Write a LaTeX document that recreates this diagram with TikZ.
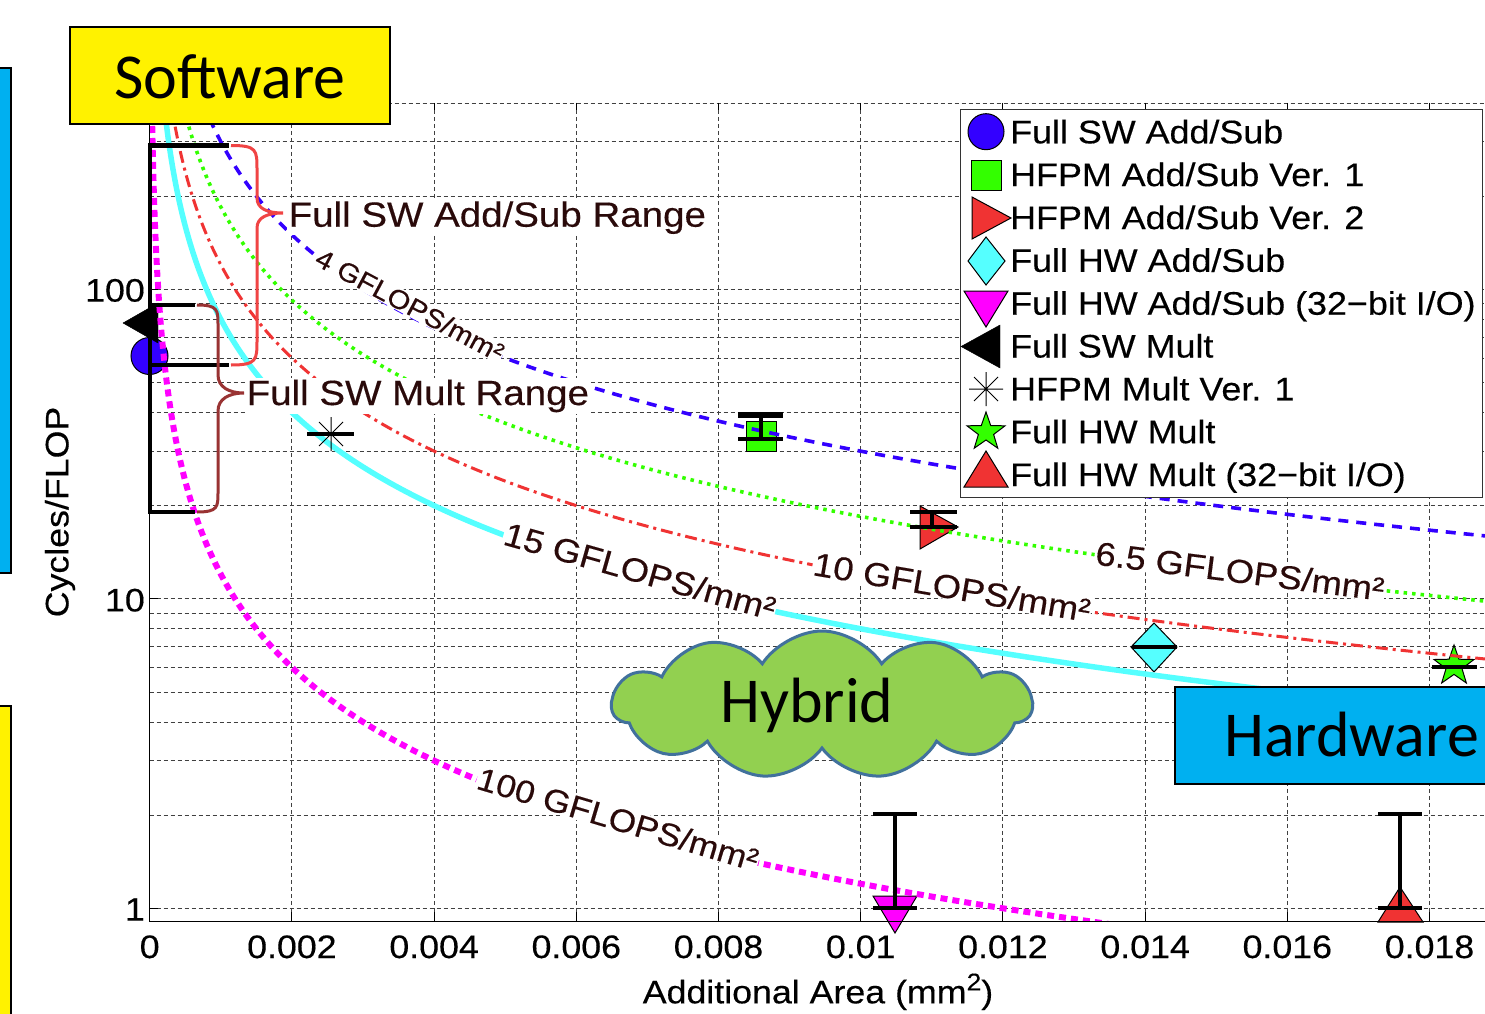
\documentclass[tikz,border=0pt]{standalone}
\usepackage{fontspec}
\setmainfont{Liberation Sans}
\newfontfamily\pf[FakeStretch=1.1,FakeBold=0.35]{Liberation Sans}
\newfontfamily\cf{Carlito}
\usetikzlibrary{shapes.symbols,shapes.geometric}
\definecolor{mblue}{HTML}{3300FF}
\definecolor{mgreen}{HTML}{33FF00}
\definecolor{mred}{HTML}{F03333}
\definecolor{mcyan}{HTML}{55FFFF}
\definecolor{mmag}{HTML}{FF00FF}
\definecolor{bracer}{HTML}{F04444}
\definecolor{braced}{HTML}{993333}
\definecolor{txt}{HTML}{2A0A0A}
\definecolor{cloudg}{HTML}{92D050}
\definecolor{cloudb}{HTML}{41719C}
\definecolor{hwblue}{HTML}{00B0F0}
\begin{document}
\begin{tikzpicture}[x=1pt,y=-1pt,
  gridl/.style={draw=black!75, line width=0.9pt, dash pattern=on 4pt off 3pt},
  ebar/.style={line width=4.5pt, black},
  vbar/.style={line width=3.5pt, black},
  mk/.style={draw=black, line width=1pt},
  ann/.style={fill=white, inner sep=1.5pt, text=txt, anchor=base west, font=\pf\fontsize{35}{38}\selectfont},
  clab/.style={fill=white, inner sep=1pt, text=txt, font=\pf\fontsize{33}{36}\selectfont},
  tickl/.style={font=\pf\fontsize{32.5}{36}\selectfont, inner sep=0},
  legtxt/.style={font=\pf\fontsize{32.6}{36}\selectfont, inner sep=0, anchor=base west},
  big/.style={font=\cf\fontsize{64}{70}\selectfont, inner sep=0, anchor=base}
]
\useasboundingbox (0,0) rectangle (1485,1014);
\clip (0,0) rectangle (1485,1014);
\fill[white] (0,0) rectangle (1485,1014);

% left strips
\filldraw[fill=hwblue, draw=black, line width=1.2pt] (-5,68) rectangle (11,573);
\filldraw[fill=yellow, draw=black, line width=1.2pt] (-5,706) rectangle (11,1020);

% grid
\foreach \v in {1,2,3,4,5,6,7,8,9,10,20,30,40,50,60,70,80,90,100,200,300,400}{
  \pgfmathsetmacro\yy{908.3-309.5*log10(\v)}
  \draw[gridl] (149.7,\yy) -- (1485,\yy);
}
\foreach \k in {1,...,9}{
  \draw[gridl] ({149.7+142.2*\k},102.9) -- ({149.7+142.2*\k},921.7);
  \draw[line width=1pt] ({149.7+142.2*\k},921.7) -- ({149.7+142.2*\k},912);
  \draw[line width=1pt] ({149.7+142.2*\k},102.9) -- ({149.7+142.2*\k},110);
}

% markers
\filldraw[mk, fill=mblue] (149.5,356) circle[radius=18.5pt];
\filldraw[fill=black, draw=black] (123,323) -- (158,303) -- (158,343) -- cycle;
\filldraw[mk, fill=mgreen] (746,421) rectangle (776,451);
\filldraw[mk, fill=mred] (920,506) -- (958,527) -- (920,549) -- cycle;
\filldraw[mk, fill=mcyan] (1131,647) -- (1154,623) -- (1177,647) -- (1154,672) -- cycle;
\filldraw[mk, fill=mmag] (873,896) -- (917,896) -- (895,933) -- cycle;
\filldraw[mk, fill=mred] (1400,887) -- (1423,922) -- (1378,922) -- cycle;
\node[star, star points=5, star point ratio=2.5, minimum size=42pt, inner sep=0, mk, fill=mgreen] (hwm) at (1454,666) {};

% curves
\begin{scope}
\clip (149.7,102.9) rectangle (1485,921.7);
\draw[mblue, line width=3.6pt, dash pattern=on 10pt off 8pt] plot[domain=1.7237:3.13, samples=160, variable=\t] ({149.7+pow(10,\t)},{-431.5+309.5*\t});
\draw[mgreen, line width=3.6pt, dash pattern=on 3.5pt off 5pt] plot[domain=1.5129:3.13, samples=160, variable=\t] ({149.7+pow(10,\t)},{-366.25+309.5*\t});
\draw[mred, line width=3pt, dash pattern=on 12pt off 5pt on 3pt off 5pt] plot[domain=1.3260:3.13, samples=160, variable=\t] ({149.7+pow(10,\t)},{-308.4+309.5*\t});
\draw[mcyan, line width=5.5pt] plot[domain=1.1499:3.13, samples=160, variable=\t] ({149.7+pow(10,\t)},{-253.9+309.5*\t});
\draw[mmag, line width=6pt, dash pattern=on 7pt off 5pt] plot[domain=0.326:3.0, samples=200, variable=\t] ({149.7+pow(10,\t)},{1.1+309.5*\t});
\end{scope}

% asterisk
\draw[line width=1pt] (331,417) -- (331,451) (314,434) -- (348,434) (319,422) -- (343,446) (319,446) -- (343,422);

% error bars
\draw[ebar] (307,434) -- (354,434);
\draw[line width=6pt] (738,415) -- (783,415);
\draw[ebar] (738,439) -- (783,439);
\draw[vbar] (761,415) -- (761,439);
\draw[ebar] (910,512) -- (957,512) (910,527) -- (957,527);
\draw[vbar] (932,512) -- (932,527);
\draw[ebar] (1132,647) -- (1177,647);
\draw[ebar] (1432,667) -- (1477,667);
\draw[vbar] (895,814) -- (895,908);
\draw[ebar] (873,814) -- (917,814) (873,908) -- (917,908);
\draw[vbar] (1400,814) -- (1400,908);
\draw[ebar] (1378,814) -- (1422,814) (1378,908) -- (1422,908);

% axes
\draw[line width=1.2pt] (149.7,102.9) -- (149.7,921.7) -- (1485,921.7);
\foreach \v in {1,10,100}{
  \pgfmathsetmacro\yy{908.3-309.5*log10(\v)}
  \draw[line width=1pt] (149.7,\yy) -- (158,\yy);
}

% software ranges
\draw[line width=4pt] (150,145) -- (150,512);
\draw[ebar] (148,145.5) -- (229,145.5) (148,365) -- (229,365);
\draw[ebar] (148,305) -- (195,305) (148,512) -- (195,512);

% curve labels
\node[clab, rotate=-28.1, font=\pf\fontsize{26.5}{28}\selectfont] (l4) at (410,305) {4 GFLOPS/mm²};
\node[clab, rotate=-15.8] (l15) at (640,571) {15 GFLOPS/mm²};
\node[clab, rotate=-9.7] (l10) at (952,587) {10 GFLOPS/mm²};
\node[clab, rotate=-7.2] (l65) at (1240,571) {6.5 GFLOPS/mm²};
\node[clab, rotate=-16.6, font=\pf\fontsize{32}{35}\selectfont] (l100) at (618,819) {100 GFLOPS/mm²};

% range annotations
\node[ann] (raddsub) at (287,226.7) {Full SW Add/Sub Range};
\node[ann] (rmult) at (245,405) {Full SW Mult Range};
\draw[bracer, line width=3pt] (231,145.5) .. controls (257,145.5) and (257,150) .. (257,170) -- (257,198) .. controls (257,209) and (268,213) .. (283,213) .. controls (268,213) and (257,217) .. (257,228) -- (257,340) .. controls (257,360) and (257,365) .. (231,365);
\draw[braced, line width=3pt] (197,305) .. controls (218,305) and (218,310) .. (218,325) -- (218,375) .. controls (218,387) and (229,393) .. (244,393) .. controls (229,393) and (218,399) .. (218,411) -- (218,492) .. controls (218,507) and (218,512) .. (197,512);

% tick labels
\foreach \k/\lab in {0/0,1/0.002,2/0.004,3/0.006,4/0.008,5/0.01,6/0.012,7/0.014,8/0.016,9/0.018}{
  \node[tickl, anchor=base] (xt\k) at ({149.7+142.2*\k},958) {\lab};
}
\node[tickl, anchor=base east] (yt100) at (145,301.6) {100};
\node[tickl, anchor=base east] (yt10) at (145,611.4) {10};
\node[tickl, anchor=base east] (yt1) at (145,920.6) {1};
\node[tickl, anchor=base] (xlab) at (818,1003.3) {Additional Area (mm\raisebox{13pt}{\fontsize{24}{26}\selectfont 2})};
\node[tickl, rotate=90] (ylab) at (60,512) {Cycles/FLOP};

% legend
\node[draw=black!80, fill=white, line width=1.2pt, minimum width=522pt, minimum height=388pt, anchor=north west, inner sep=0] (leg) at (960,109) {};
\filldraw[mk, fill=mblue] (986,131.7) circle[radius=18pt];
\filldraw[mk, fill=mgreen] (971,160) rectangle (1001,190);
\filldraw[mk, fill=mred] (972,197) -- (1011,218) -- (972,239) -- cycle;
\filldraw[mk, fill=mcyan] (968,261) -- (986,237) -- (1005,261) -- (986,285) -- cycle;
\filldraw[mk, fill=mmag] (964,291) -- (1008,291) -- (986,327) -- cycle;
\filldraw[fill=black, draw=black] (961,346.5) -- (1000,325) -- (1000,368) -- cycle;
\draw[line width=1pt] (986,372) -- (986,406) (969,389) -- (1003,389) (974,377) -- (998,401) (974,401) -- (998,377);
\node[star, star points=5, star point ratio=2.5, minimum size=40pt, inner sep=0, mk, fill=mgreen] (legstar) at (986,432) {};
\filldraw[mk, fill=mred] (986,451) -- (1008,487) -- (964,487) -- cycle;
\node[legtxt] (lg1) at (1010,143.3) {Full SW Add/Sub};
\node[legtxt] (lg2) at (1010,186.1) {HFPM Add/Sub Ver. 1};
\node[legtxt] (lg3) at (1010,229.0) {HFPM Add/Sub Ver. 2};
\node[legtxt] (lg4) at (1010,271.8) {Full HW Add/Sub};
\node[legtxt] (lg5) at (1010,314.7) {Full HW Add/Sub (32−bit I/O)};
\node[legtxt] (lg6) at (1010,357.5) {Full SW Mult};
\node[legtxt] (lg7) at (1010,400.3) {HFPM Mult Ver. 1};
\node[legtxt] (lg8) at (1010,443.2) {Full HW Mult};
\node[legtxt] (lg9) at (1010,486.0) {Full HW Mult (32−bit I/O)};

% boxes and cloud
\node[draw=black, fill=yellow, line width=1.5pt, minimum width=320pt, minimum height=97pt, inner sep=0] (swbox) at (230,75.5) {};
\node[big] (swtxt) at (230,98.3) {Software};
\node[cloud, cloud puffs=11, cloud puff arc=115, aspect=2.8, draw=cloudb, fill=cloudg, line width=3pt, minimum width=420pt, minimum height=148pt, inner sep=0] (hyb) at (822,705) {};
\node[big] (hybt) at (807,722) {Hybrid};
\node[draw=black, fill=hwblue, line width=1.5pt, minimum width=353pt, minimum height=97pt, inner sep=0] (hwbox) at (1351.5,735.5) {};
\node[big] (hwtxt) at (1351.5,756.7) {Hardware};
\end{tikzpicture}
\end{document}
